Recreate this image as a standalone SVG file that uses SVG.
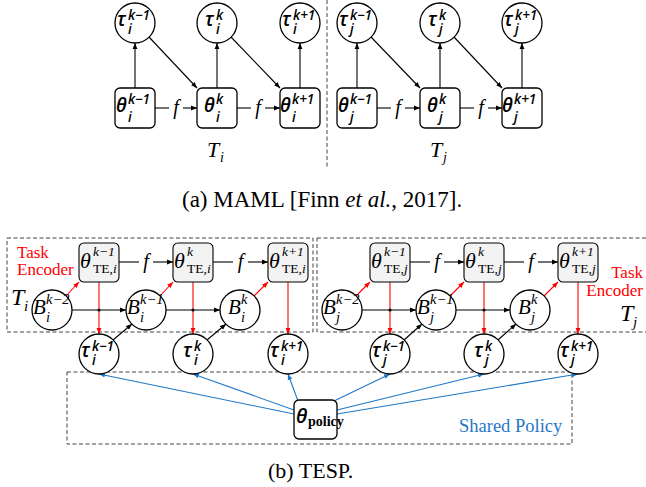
<svg xmlns="http://www.w3.org/2000/svg" width="646" height="487" viewBox="0 0 646 487">
<style>
.bg{fill:#fff}
.nd{fill:#fff;stroke:#000;stroke-width:1.3}
.te{fill:#f3f3f3;stroke:#000;stroke-width:1.1}
.dash{fill:none;stroke:#444;stroke-width:1;stroke-dasharray:4,2.5}
.ck{stroke:#000;stroke-width:1.1;fill:none}
.cr{stroke:#ff0000;stroke-width:1.1;fill:none}
.cb{stroke:#1f78c8;stroke-width:1.1;fill:none}
.m{font-family:"Open Sans","DejaVu Sans",sans-serif;font-style:italic;font-weight:600}
.mb{font-size:19px}
.ms{font-size:13.5px}
.sr{font-family:"Liberation Serif","Times New Roman",serif}
.it{font-style:italic}
.red{fill:#ff0000}
.blue{fill:#1f78c8}
</style>
<defs>
<marker id="ak" viewBox="0 0 10 10" refX="10" refY="5" markerWidth="6" markerHeight="6" orient="auto" markerUnits="userSpaceOnUse"><path d="M0,1 L10,5 L0,9 z" fill="#000"/></marker>
<marker id="ar" viewBox="0 0 10 10" refX="10" refY="5" markerWidth="6" markerHeight="6" orient="auto" markerUnits="userSpaceOnUse"><path d="M0,1 L10,5 L0,9 z" fill="#ff0000"/></marker>
<marker id="ab" viewBox="0 0 10 10" refX="10" refY="5" markerWidth="6" markerHeight="6" orient="auto" markerUnits="userSpaceOnUse"><path d="M0,1 L10,5 L0,9 z" fill="#1f78c8"/></marker>
</defs>
<rect class="bg" x="0" y="0" width="646" height="487"/>

<g id="frames">
<line class="dash" x1="327" y1="0" x2="327" y2="168"/>
<rect class="dash" x="7" y="238" width="306" height="94"/>
<rect class="dash" x="317" y="238" width="340" height="94"/>
<rect class="dash" x="67" y="372" width="505" height="72"/>
</g>

<g id="connectors">
<path class="ck" d="M135,88V43" marker-end="url(#ak)"/>
<path class="ck" d="M217,88V43" marker-end="url(#ak)"/>
<path class="ck" d="M300,88V43" marker-end="url(#ak)"/>
<path class="ck" d="M149,37L197,88" marker-end="url(#ak)"/>
<path class="ck" d="M231,37L280,88" marker-end="url(#ak)"/>
<path class="ck" d="M155,108H169"/><path class="ck" d="M183,108H197" marker-end="url(#ak)"/>
<path class="ck" d="M237,108H251"/><path class="ck" d="M265,108H280" marker-end="url(#ak)"/>
<path class="ck" d="M357,88V43" marker-end="url(#ak)"/>
<path class="ck" d="M440,88V43" marker-end="url(#ak)"/>
<path class="ck" d="M522,88V43" marker-end="url(#ak)"/>
<path class="ck" d="M371,37L420,88" marker-end="url(#ak)"/>
<path class="ck" d="M454,37L502,88" marker-end="url(#ak)"/>
<path class="ck" d="M377,108H391"/><path class="ck" d="M405,108H420" marker-end="url(#ak)"/>
<path class="ck" d="M460,108H474"/><path class="ck" d="M488,108H502" marker-end="url(#ak)"/>
<path class="ck" d="M119,262H139"/><path class="ck" d="M153,262H173" marker-end="url(#ak)"/>
<path class="ck" d="M213,262H233"/><path class="ck" d="M248,262H268" marker-end="url(#ak)"/>
<path class="ck" d="M410,262H430"/><path class="ck" d="M444,262H464" marker-end="url(#ak)"/>
<path class="ck" d="M504,262H524"/><path class="ck" d="M538,262H558" marker-end="url(#ak)"/>
<path class="cr" d="M66,296L79,282" marker-end="url(#ar)"/>
<path class="cr" d="M160,296L173,282" marker-end="url(#ar)"/>
<path class="cr" d="M254,296L268,282" marker-end="url(#ar)"/>
<path class="cr" d="M356,296L370,282" marker-end="url(#ar)"/>
<path class="cr" d="M450,296L464,282" marker-end="url(#ar)"/>
<path class="cr" d="M544,296L558,282" marker-end="url(#ar)"/>
<path class="ck" d="M72,310H126" marker-end="url(#ak)"/>
<path class="ck" d="M166,310H220" marker-end="url(#ak)"/>
<path class="ck" d="M362,310H416" marker-end="url(#ak)"/>
<path class="ck" d="M456,310H510" marker-end="url(#ak)"/>
<path class="cr" d="M99,282V334" marker-end="url(#ar)"/>
<path class="cr" d="M193,282V334" marker-end="url(#ar)"/>
<path class="cr" d="M288,282V334" marker-end="url(#ar)"/>
<path class="cr" d="M390,282V334" marker-end="url(#ar)"/>
<path class="cr" d="M484,282V334" marker-end="url(#ar)"/>
<path class="cr" d="M578,282V334" marker-end="url(#ar)"/>
<circle cx="99" cy="310" r="1.6" fill="#000"/>
<circle cx="193" cy="310" r="1.6" fill="#000"/>
<circle cx="390" cy="310" r="1.6" fill="#000"/>
<circle cx="484" cy="310" r="1.6" fill="#000"/>
<path class="ck" d="M113,340L132,324" marker-end="url(#ak)"/>
<path class="ck" d="M207,340L226,324" marker-end="url(#ak)"/>
<path class="ck" d="M404,340L422,324" marker-end="url(#ak)"/>
<path class="ck" d="M498,340L516,324" marker-end="url(#ak)"/>
<path class="cb" d="M294,414L99,374" marker-end="url(#ab)"/>
<path class="cb" d="M294,410L193,374" marker-end="url(#ab)"/>
<path class="cb" d="M298,401L288,374" marker-end="url(#ab)"/>
<path class="cb" d="M334,401L390,374" marker-end="url(#ab)"/>
<path class="cb" d="M337,410L484,374" marker-end="url(#ab)"/>
<path class="cb" d="M337,414L578,374" marker-end="url(#ab)"/>
</g>

<g id="f-labels" class="sr it" font-size="20">
<text x="176" y="114" text-anchor="middle">f</text>
<text x="258" y="114" text-anchor="middle">f</text>
<text x="398" y="114" text-anchor="middle">f</text>
<text x="481" y="114" text-anchor="middle">f</text>
<text x="146" y="268" text-anchor="middle">f</text>
<text x="240.5" y="268" text-anchor="middle">f</text>
<text x="437" y="268" text-anchor="middle">f</text>
<text x="531" y="268" text-anchor="middle">f</text>
</g>

<g id="a-tau-i-km1"><circle class="nd" cx="135" cy="23" r="20"/><text class="m mb" x="117" y="26">τ</text><text class="m ms" x="128" y="20">k−1</text><text class="m ms" x="128" y="34">i</text></g>
<g id="a-tau-i-k"><circle class="nd" cx="217" cy="23" r="20"/><text class="m mb" x="205" y="26">τ</text><text class="m ms" x="216" y="20">k</text><text class="m ms" x="216" y="34">i</text></g>
<g id="a-tau-i-kp1"><circle class="nd" cx="300" cy="23" r="20"/><text class="m mb" x="282" y="26">τ</text><text class="m ms" x="293" y="20">k+1</text><text class="m ms" x="293" y="34">i</text></g>
<g id="a-theta-i-km1"><rect class="nd" x="115" y="88" width="40" height="40" rx="5"/><text class="m mb" x="116" y="112">θ</text><text class="m ms" x="128" y="104">k−1</text><text class="m ms" x="128" y="122">i</text></g>
<g id="a-theta-i-k"><rect class="nd" x="197" y="88" width="40" height="40" rx="5"/><text class="m mb" x="204" y="112">θ</text><text class="m ms" x="216" y="104">k</text><text class="m ms" x="216" y="122">i</text></g>
<g id="a-theta-i-kp1"><rect class="nd" x="280" y="88" width="40" height="40" rx="5"/><text class="m mb" x="280" y="112">θ</text><text class="m ms" x="292" y="104">k+1</text><text class="m ms" x="292" y="122">i</text></g>

<g id="a-tau-j-km1"><circle class="nd" cx="357" cy="23" r="20"/><text class="m mb" x="339" y="26">τ</text><text class="m ms" x="350" y="20">k−1</text><text class="m ms" x="350" y="34">j</text></g>
<g id="a-tau-j-k"><circle class="nd" cx="440" cy="23" r="20"/><text class="m mb" x="428" y="26">τ</text><text class="m ms" x="439" y="20">k</text><text class="m ms" x="439" y="34">j</text></g>
<g id="a-tau-j-kp1"><circle class="nd" cx="522" cy="23" r="20"/><text class="m mb" x="504" y="26">τ</text><text class="m ms" x="515" y="20">k+1</text><text class="m ms" x="515" y="34">j</text></g>
<g id="a-theta-j-km1"><rect class="nd" x="337" y="88" width="40" height="40" rx="5"/><text class="m mb" x="338" y="112">θ</text><text class="m ms" x="350" y="104">k−1</text><text class="m ms" x="350" y="122">j</text></g>
<g id="a-theta-j-k"><rect class="nd" x="420" y="88" width="40" height="40" rx="5"/><text class="m mb" x="427" y="112">θ</text><text class="m ms" x="439" y="104">k</text><text class="m ms" x="439" y="122">j</text></g>
<g id="a-theta-j-kp1"><rect class="nd" x="502" y="88" width="40" height="40" rx="5"/><text class="m mb" x="502" y="112">θ</text><text class="m ms" x="514" y="104">k+1</text><text class="m ms" x="514" y="122">j</text></g>

<g id="a-labels" class="sr it">
<text x="207" y="157" font-size="22">T</text><text x="220" y="162" font-size="14">i</text>
<text x="430" y="157" font-size="22">T</text><text x="443" y="162" font-size="14">j</text>
</g>
<text id="caption-a" class="sr" x="182" y="207" font-size="23">(a) MAML [Finn <tspan font-style="italic">et al.</tspan>, 2017].</text>

<g id="te-i-km1"><rect class="te" x="79" y="243" width="40" height="39" rx="5"/><text class="sr it" x="80" y="268" font-size="22">θ</text><text class="sr it" x="93" y="256" font-size="13.5">k−1</text><text class="sr" x="93" y="273" font-size="13.5">TE,<tspan font-style="italic">i</tspan></text></g>
<g id="te-i-k"><rect class="te" x="173" y="243" width="40" height="39" rx="5"/><text class="sr it" x="174" y="268" font-size="22">θ</text><text class="sr it" x="187" y="256" font-size="13.5">k</text><text class="sr" x="187" y="273" font-size="13.5">TE,<tspan font-style="italic">i</tspan></text></g>
<g id="te-i-kp1"><rect class="te" x="268" y="243" width="40" height="39" rx="5"/><text class="sr it" x="269" y="268" font-size="22">θ</text><text class="sr it" x="282" y="256" font-size="13.5">k+1</text><text class="sr" x="282" y="273" font-size="13.5">TE,<tspan font-style="italic">i</tspan></text></g>
<g id="te-j-km1"><rect class="te" x="370" y="243" width="40" height="39" rx="5"/><text class="sr it" x="371" y="268" font-size="22">θ</text><text class="sr it" x="384" y="256" font-size="13.5">k−1</text><text class="sr" x="384" y="273" font-size="13.5">TE,<tspan font-style="italic">j</tspan></text></g>
<g id="te-j-k"><rect class="te" x="464" y="243" width="40" height="39" rx="5"/><text class="sr it" x="465" y="268" font-size="22">θ</text><text class="sr it" x="478" y="256" font-size="13.5">k</text><text class="sr" x="478" y="273" font-size="13.5">TE,<tspan font-style="italic">j</tspan></text></g>
<g id="te-j-kp1"><rect class="te" x="558" y="243" width="40" height="39" rx="5"/><text class="sr it" x="559" y="268" font-size="22">θ</text><text class="sr it" x="572" y="256" font-size="13.5">k+1</text><text class="sr" x="572" y="273" font-size="13.5">TE,<tspan font-style="italic">j</tspan></text></g>

<g id="b-i-km2"><circle class="nd" cx="52" cy="310" r="20"/><text class="sr it" x="33" y="314" font-size="21">B</text><text class="sr it" x="46" y="304" font-size="14.5">k−2</text><text class="sr it" x="46" y="322" font-size="14.5">i</text></g>
<g id="b-i-km1"><circle class="nd" cx="146" cy="310" r="20"/><text class="sr it" x="127" y="314" font-size="21">B</text><text class="sr it" x="140" y="304" font-size="14.5">k−1</text><text class="sr it" x="140" y="322" font-size="14.5">i</text></g>
<g id="b-i-k"><circle class="nd" cx="240" cy="310" r="20"/><text class="sr it" x="228" y="314" font-size="21">B</text><text class="sr it" x="241" y="304" font-size="14.5">k</text><text class="sr it" x="241" y="322" font-size="14.5">i</text></g>
<g id="b-j-km2"><circle class="nd" cx="342" cy="310" r="20"/><text class="sr it" x="323" y="314" font-size="21">B</text><text class="sr it" x="336" y="304" font-size="14.5">k−2</text><text class="sr it" x="336" y="322" font-size="14.5">j</text></g>
<g id="b-j-km1"><circle class="nd" cx="436" cy="310" r="20"/><text class="sr it" x="417" y="314" font-size="21">B</text><text class="sr it" x="430" y="304" font-size="14.5">k−1</text><text class="sr it" x="430" y="322" font-size="14.5">j</text></g>
<g id="b-j-k"><circle class="nd" cx="530" cy="310" r="20"/><text class="sr it" x="518" y="314" font-size="21">B</text><text class="sr it" x="531" y="304" font-size="14.5">k</text><text class="sr it" x="531" y="322" font-size="14.5">j</text></g>

<g id="tau-i-km1"><circle class="nd" cx="99" cy="354" r="20"/><text class="m mb" x="81" y="357">τ</text><text class="m ms" x="92" y="351">k−1</text><text class="m ms" x="92" y="365">i</text></g>
<g id="tau-i-k"><circle class="nd" cx="193" cy="354" r="20"/><text class="m mb" x="183" y="357">τ</text><text class="m ms" x="194" y="351">k</text><text class="m ms" x="194" y="365">i</text></g>
<g id="tau-i-kp1"><circle class="nd" cx="288" cy="354" r="20"/><text class="m mb" x="270" y="357">τ</text><text class="m ms" x="281" y="351">k+1</text><text class="m ms" x="281" y="365">i</text></g>
<g id="tau-j-km1"><circle class="nd" cx="390" cy="354" r="20"/><text class="m mb" x="372" y="357">τ</text><text class="m ms" x="383" y="351">k−1</text><text class="m ms" x="383" y="365">j</text></g>
<g id="tau-j-k"><circle class="nd" cx="484" cy="354" r="20"/><text class="m mb" x="474" y="357">τ</text><text class="m ms" x="485" y="351">k</text><text class="m ms" x="485" y="365">j</text></g>
<g id="tau-j-kp1"><circle class="nd" cx="578" cy="354" r="20"/><text class="m mb" x="560" y="357">τ</text><text class="m ms" x="571" y="351">k+1</text><text class="m ms" x="571" y="365">j</text></g>

<g id="theta-policy"><rect class="nd" x="294" y="400" width="43" height="39" rx="5"/><text class="m" x="296" y="423" font-size="20" font-weight="700">θ</text><text class="sr" x="308" y="426" font-size="14" font-weight="700">policy</text></g>

<g id="b-labels" class="sr">
<text class="red" x="17" y="258" font-size="17">Task</text>
<text class="red" x="17" y="275" font-size="17">Encoder</text>
<text class="red" x="643" y="278" font-size="17" text-anchor="end">Task</text>
<text class="red" x="643" y="296" font-size="17" text-anchor="end">Encoder</text>
<text class="it" x="11" y="305" font-size="24">T</text><text class="it" x="24" y="311" font-size="15">i</text>
<text class="it" x="620" y="321" font-size="24">T</text><text class="it" x="633" y="327" font-size="15">j</text>
<text class="blue" x="459" y="432" font-size="18.5">Shared Policy</text>
</g>
<text id="caption-b" class="sr" x="268" y="478" font-size="22">(b) TESP.</text>
</svg>
